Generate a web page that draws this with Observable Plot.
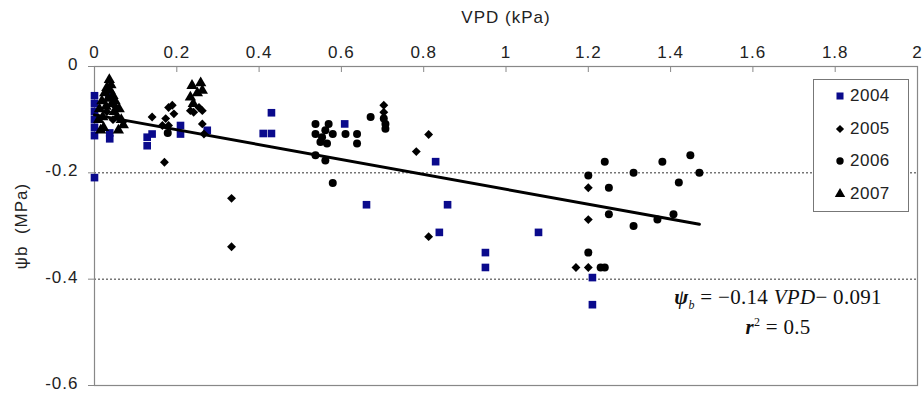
<!DOCTYPE html>
<html><head><meta charset="utf-8">
<script src="https://cdn.jsdelivr.net/npm/d3@7"></script>
<script src="https://cdn.jsdelivr.net/npm/@observablehq/plot@0.6"></script>
<style>
body{margin:0;background:#fff;}
#wrap{position:relative;width:922px;height:393px;font-family:"Liberation Sans",Arial,sans-serif;}
#legend{position:absolute;left:813px;top:79px;width:96px;height:133px;border:1px solid #777;background:#fff;box-sizing:border-box;}
.li{position:absolute;left:20px;height:20px;display:flex;align-items:center;font-size:17px;letter-spacing:0.5px;color:#222;}
.li svg{margin-right:4px;overflow:visible;}
.eq{position:absolute;left:643px;width:270px;text-align:center;font-family:"Liberation Serif","Times New Roman",serif;font-size:21px;letter-spacing:0.3px;color:#111;white-space:nowrap;}
</style></head><body><div id="wrap"></div>
<script>
// ---- data ----
const years = ["2004", "2005", "2006", "2007"];

const vpd2004 = [0, 0, 0, 0, 0, 0, 0, 0.035, 0.037, 0.037, 0.128, 0.128, 0.14, 0.209, 0.209, 0.274, 0.41, 0.43, 0.43, 0.608, 0.661, 0.829, 0.838, 0.858, 0.95, 0.95, 1.079, 1.21, 1.21];
const psi2004 = [-0.055, -0.07, -0.085, -0.10, -0.115, -0.13, -0.209, -0.055, -0.125, -0.136, -0.133, -0.149, -0.127, -0.111, -0.127, -0.12, -0.126, -0.126, -0.087, -0.108, -0.26, -0.179, -0.312, -0.26, -0.35, -0.378, -0.312, -0.397, -0.448];

const vpd2005 = [0.03, 0.045, 0.05, 0.14, 0.165, 0.173, 0.18, 0.189, 0.193, 0.18, 0.17, 0.233, 0.241, 0.254, 0.262, 0.262, 0.266, 0.333, 0.333, 0.703, 0.703, 0.782, 0.812, 0.812, 1.2, 1.2, 1.17, 1.2];
const psi2005 = [-0.085, -0.1, -0.075, -0.095, -0.111, -0.098, -0.077, -0.073, -0.089, -0.111, -0.18, -0.083, -0.086, -0.077, -0.083, -0.108, -0.127, -0.248, -0.339, -0.073, -0.086, -0.16, -0.128, -0.32, -0.228, -0.288, -0.378, -0.378];

const vpd2006 = [0.178, 0.537, 0.569, 0.561, 0.537, 0.553, 0.549, 0.565, 0.579, 0.61, 0.638, 0.638, 0.671, 0.703, 0.707, 0.707, 0.537, 0.561, 0.579, 1.2, 1.24, 1.25, 1.25, 1.31, 1.31, 1.368, 1.38, 1.407, 1.42, 1.448, 1.47, 1.2, 1.23, 1.24];
const psi2006 = [-0.125, -0.108, -0.108, -0.12, -0.127, -0.133, -0.142, -0.145, -0.127, -0.127, -0.127, -0.145, -0.095, -0.098, -0.108, -0.117, -0.167, -0.177, -0.219, -0.205, -0.179, -0.228, -0.278, -0.2, -0.3, -0.288, -0.179, -0.278, -0.218, -0.167, -0.2, -0.35, -0.378, -0.378];

const vpd2007 = [0.01, 0.012, 0.018, 0.02, 0.022, 0.025, 0.028, 0.03, 0.033, 0.036, 0.038, 0.04, 0.042, 0.045, 0.048, 0.05, 0.055, 0.06, 0.065, 0.07, 0.058, 0.015, 0.237, 0.258, 0.262, 0.233, 0.24, 0.25];
const psi2007 = [-0.1, -0.08, -0.065, -0.095, -0.115, -0.05, -0.075, -0.04, -0.06, -0.025, -0.045, -0.035, -0.07, -0.055, -0.085, -0.065, -0.095, -0.08, -0.1, -0.11, -0.12, -0.12, -0.036, -0.031, -0.045, -0.058, -0.07, -0.05];

// regression shown on the chart: psi_b = -0.14 VPD - 0.091
const fitSlope = -0.14;
const fitIntercept = -0.091;

const xTicks = [0, 0.2, 0.4, 0.6, 0.8, 1, 1.2, 1.4, 1.6, 1.8, 2];
const yTicks = [0, -0.2, -0.4, -0.6];
const gridY = [-0.2, -0.4];

// ---- build ----
const rows = (xs, ys, year) => xs.map((x, i) => ({vpd: x, psi: ys[i], year}));
const r2004 = rows(vpd2004, psi2004, years[0]);
const r2005 = rows(vpd2005, psi2005, years[1]);
const r2006 = rows(vpd2006, psi2006, years[2]);
const r2007 = rows(vpd2007, psi2007, years[3]);
const allX = [...vpd2004, ...vpd2005, ...vpd2006, ...vpd2007];
const fitRows = d3.extent(allX).map(x => ({vpd: x, psi: fitSlope * x + fitIntercept}));

const fmt = d => String(+(+d).toFixed(1));

const navy = "#0a0a8c";
const styles = {
  "2004": {symbol: "square", fill: navy, r: 4.3},
  "2005": {symbol: "diamond2", fill: "#000", r: 4.0},
  "2006": {symbol: "circle", fill: "#000", r: 4.0},
  "2007": {symbol: "triangle", fill: "#000", r: 4.2}
};

const chart = Plot.plot({
  width: 922, height: 393,
  marginLeft: 94, marginRight: 5, marginTop: 66, marginBottom: 8,
  style: {fontFamily: "Liberation Sans, Arial, sans-serif", fontSize: "17px", color: "#222", background: "#fff", letterSpacing: "1px"},
  x: {domain: [0, 2]},
  y: {domain: [-0.6, 0]},
  marks: [
    Plot.ruleY(gridY, {stroke: "#333", strokeDasharray: "2,2", strokeWidth: 1}),
    Plot.frame({stroke: "#888", strokeWidth: 1.2}),
    Plot.axisX(xTicks, {anchor: "top", tickSize: -5, tickPadding: 14, tickFormat: fmt, stroke: "#888",
      label: "VPD (kPa)", labelAnchor: "center", labelArrow: "none", labelOffset: 56}),
    // y tick marks (outward)
    Plot.axisY(yTicks, {anchor: "left", tickSize: 6, tickFormat: () => "", stroke: "#888", label: null}),
    // y tick labels (nudged up so the bottom one fits)
    Plot.axisY(yTicks, {anchor: "left", tickSize: 0, tickPadding: 16, tickFormat: fmt, dy: -2,
      label: "ψb\u00a0\u00a0(MPa)", labelAnchor: "center", labelArrow: "none", labelOffset: 80}),
    Plot.dot(r2004, {x: "vpd", y: "psi", ...styles["2004"], stroke: "none"}),
    Plot.dot(r2005, {x: "vpd", y: "psi", ...styles["2005"], stroke: "none"}),
    Plot.dot(r2006, {x: "vpd", y: "psi", ...styles["2006"], stroke: "none"}),
    Plot.dot(r2007, {x: "vpd", y: "psi", ...styles["2007"], stroke: "none"}),
    Plot.line(fitRows, {x: "vpd", y: "psi", stroke: "#000", strokeWidth: 3})
  ]
});

const wrap = document.getElementById("wrap");
wrap.appendChild(chart);

// legend (boxed, inside the plot area as in the reference)
const symMap = {square: d3.symbolSquare, diamond2: d3.symbolDiamond2, circle: d3.symbolCircle, triangle: d3.symbolTriangle};
const legend = document.createElement("div");
legend.id = "legend";
years.forEach((yr, i) => {
  const s = styles[yr];
  const item = document.createElement("div");
  item.className = "li";
  item.style.top = (6 + i * 32.5) + "px";
  const path = d3.symbol(symMap[s.symbol], Math.PI * s.r * s.r * 0.85)();
  item.innerHTML = `<svg width="12" height="12" viewBox="-6 -6 12 12"><path d="${path}" fill="${s.fill}"/></svg><span>${yr}</span>`;
  legend.appendChild(item);
});
wrap.appendChild(legend);

// equation annotation
const eq1 = document.createElement("div");
eq1.className = "eq";
eq1.style.top = "285px";
eq1.innerHTML = `<b><i>ψ</i></b><sub style="font-size:12px"><i>b</i></sub> = −0.14 <i>VPD</i>− 0.091`;
const eq2 = document.createElement("div");
eq2.className = "eq";
eq2.style.top = "315px";
eq2.innerHTML = `<b><i>r</i></b><sup style="font-size:12px">2</sup> = 0.5`;
wrap.appendChild(eq1);
wrap.appendChild(eq2);
</script>
</body></html>
